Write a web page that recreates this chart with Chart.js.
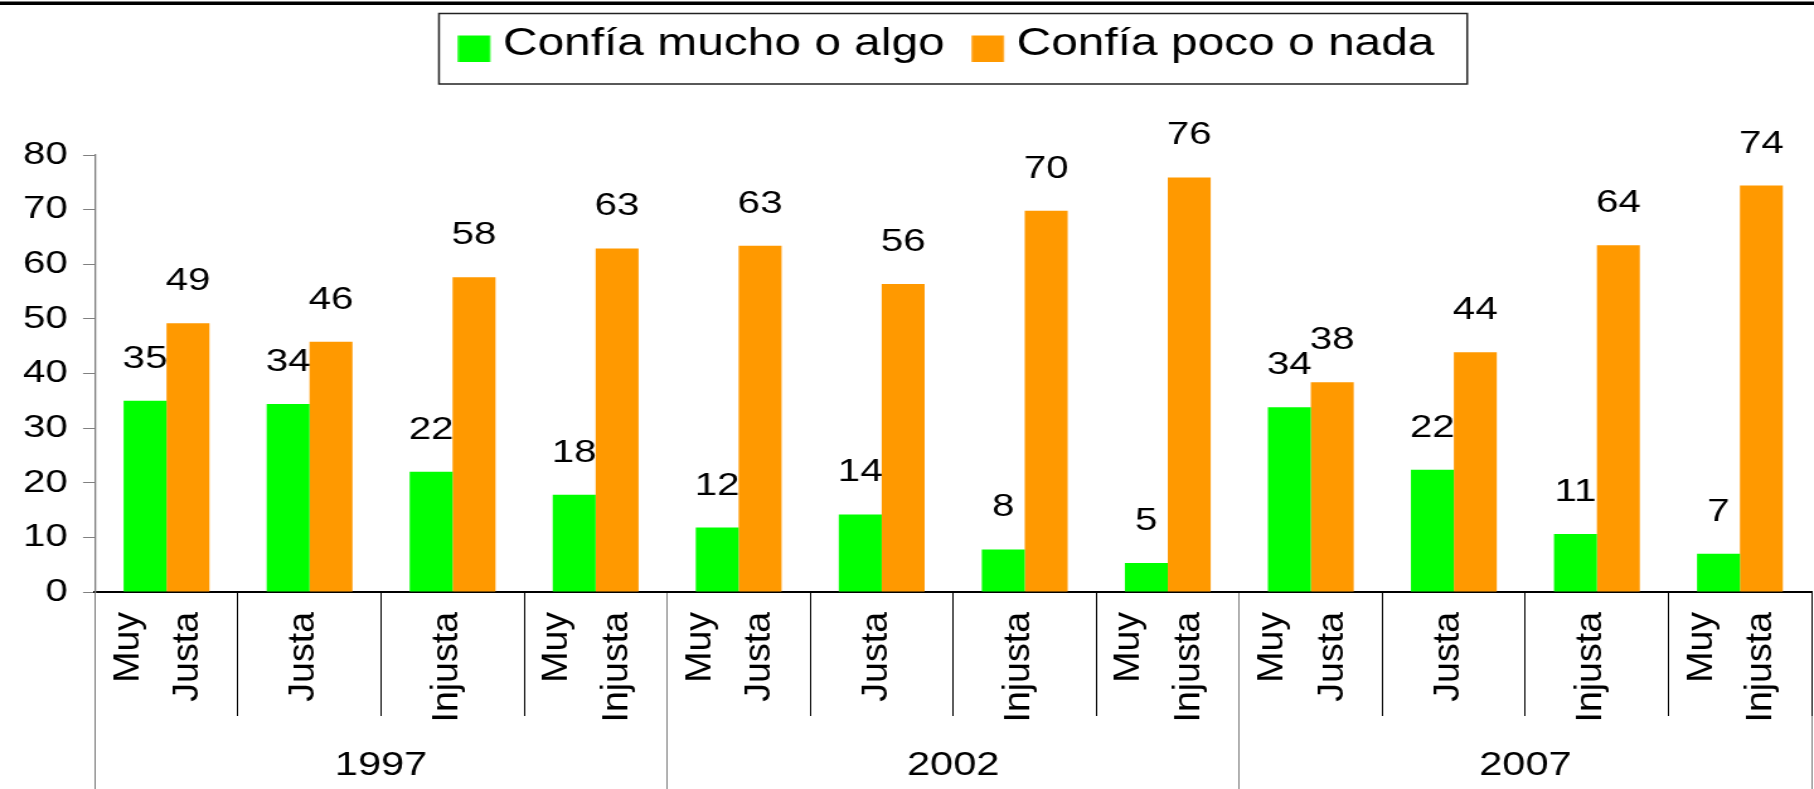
<!DOCTYPE html>
<html>
<head>
<meta charset="utf-8">
<script src="https://cdn.jsdelivr.net/npm/chart.js@4.4.1/dist/chart.umd.min.js"></script>
<style>
  html, body { margin: 0; padding: 0; background: #fff; overflow: hidden; }
  /* the original picture is stretched sideways, so the chart is drawn narrower and widened */
  #wrap { width: 1440px; height: 789px; transform: scaleX(1.2597); transform-origin: 0 0; }
</style>
</head>
<body>
<div id="wrap"><canvas id="chart" width="1440" height="789"></canvas></div>
<script>
// categories and values
const categoryLabels = [
    ['Muy', 'Justa'], ['Justa'], ['Injusta'], ['Muy', 'Injusta'],
    ['Muy', 'Justa'], ['Justa'], ['Injusta'], ['Muy', 'Injusta'],
    ['Muy', 'Justa'], ['Justa'], ['Injusta'], ['Muy', 'Injusta']
];
const yearLabels = ['1997', '2002', '2007'];
const seriesNames = ['Confía mucho o algo', 'Confía poco o nada'];
const seriesColors = ['#00FF00', '#FF9900'];
const confiaMucho = [35, 34.4, 22, 17.8, 11.8, 14.2, 7.8, 5.3, 33.8, 22.4, 10.6, 7];
const confiaPoco = [49.2, 45.8, 57.6, 62.9, 63.4, 56.4, 69.8, 75.9, 38.4, 43.9, 63.5, 74.4];
const yTicks = [0, 10, 20, 30, 40, 50, 60, 70, 80];

const STRETCH = 1814 / 1440;

Chart.defaults.font.family = '"Liberation Sans", Arial, sans-serif';
Chart.defaults.color = '#000';

// legend swatch: small square sitting a bit right of / below the point-style slot
function makeSwatch(color) {
    const c = document.createElement('canvas');
    c.width = 28;
    c.height = 33;
    const g = c.getContext('2d');
    g.fillStyle = color;
    g.fillRect(0.3, 7, 25.4, 26);
    return c;
}
const swatches = seriesColors.map(makeSwatch);

// black rule at the top + frame around the legend
const frameLines = {
    id: 'frameLines',
    beforeDraw(chart) {
        const ctx = chart.ctx;
        ctx.save();
        ctx.fillStyle = '#fff';
        ctx.fillRect(0, 0, chart.width, chart.height);
        ctx.fillStyle = '#000';
        ctx.fillRect(0, 1.5, chart.width, 3.5);
        ctx.restore();
    },
    afterDraw(chart) {
        const boxes = chart.legend.legendHitBoxes;
        if (!boxes || !boxes.length) return;
        let l = Infinity, r = -Infinity, t = Infinity;
        boxes.forEach(h => {
            l = Math.min(l, h.left);
            r = Math.max(r, h.left + h.width);
            t = Math.min(t, h.top);
        });
        const ctx = chart.ctx;
        ctx.save();
        ctx.strokeStyle = '#222';
        ctx.lineWidth = 1.5;
        ctx.strokeRect(l - 26.2, t - 12.5, (r - l) + 26.2 + 26, 70.5);
        ctx.restore();
    }
};

// value labels above each bar
const valueLabels = {
    id: 'valueLabels',
    afterDatasetsDraw(chart) {
        const ctx = chart.ctx;
        ctx.save();
        ctx.font = '32px "Liberation Sans", Arial, sans-serif';
        ctx.fillStyle = '#000';
        ctx.textAlign = 'center';
        ctx.textBaseline = 'alphabetic';
        chart.data.datasets.forEach((ds, i) => {
            chart.getDatasetMeta(i).data.forEach((bar, j) => {
                ctx.fillText(Math.round(ds.data[j]), bar.x, bar.y - 33);
            });
        });
        ctx.restore();
    }
};

// rotated category labels: undo the sideways stretch so the letters keep their shape
function drawUnstretchedLabels(chartArea) {
    const ctx = this.ctx;
    const items = this.getLabelItems(chartArea);
    ctx.save();
    ctx.scale(1 / STRETCH, 1);
    items.forEach(item => {
        const opts = Object.assign({}, item.options, {
            translation: [item.options.translation[0] * STRETCH, item.options.translation[1]],
            backdrop: undefined
        });
        Chart.helpers.renderText(ctx, item.label, 0, item.textOffset, item.font, opts);
    });
    ctx.restore();
}

const isSingle = c => (categoryLabels[c.index] || []).length === 1;

const myChart = new Chart(document.getElementById('chart'), {
    type: 'bar',
    data: {
        labels: categoryLabels,
        datasets: [{
            label: seriesNames[0],
            data: confiaMucho,
            backgroundColor: seriesColors[0],
            borderWidth: 0,
            categoryPercentage: 0.6,
            barPercentage: 1
        }, {
            label: seriesNames[1],
            data: confiaPoco,
            backgroundColor: seriesColors[1],
            borderWidth: 0,
            categoryPercentage: 0.6,
            barPercentage: 1
        }]
    },
    options: {
        responsive: false,
        animation: false,
        layout: { padding: { top: -6.5, left: 0, right: 2, bottom: 0 } },
        plugins: {
            legend: {
                position: 'top',
                fullSize: false,
                labels: {
                    font: { size: 38 },
                    usePointStyle: true,
                    pointStyleWidth: 5.6,
                    boxHeight: 26,
                    padding: 32.5,
                    color: '#000',
                    generateLabels(chart) {
                        const items = Chart.defaults.plugins.legend.labels.generateLabels(chart);
                        items.forEach((it, i) => { it.pointStyle = swatches[i]; });
                        return items;
                    }
                }
            },
            // empty title used as a spacer between legend and plot
            title: {
                display: true,
                text: '',
                weight: 500,
                position: 'top',
                padding: { top: 0, bottom: 0 },
                font: { size: 1, lineHeight: '81px' }
            },
            tooltip: { enabled: false }
        },
        scales: {
            x: {
                offset: true,
                grid: {
                    offset: true,
                    drawOnChartArea: false,
                    tickLength: 124,
                    lineWidth: 1,
                    color: c => (c.index % 4 === 0 ? '#808080' : '#000'),
                    tickColor: c => (c.index % 4 === 0 ? '#808080' : '#000')
                },
                border: { color: '#000', width: 2 },
                ticks: {
                    autoSkip: false,
                    minRotation: 90,
                    maxRotation: 90,
                    padding: -104,
                    labelOffset: -24.7,
                    // one-line labels keep Chart.js' un-shifted position, two-line ones get centred
                    showLabelBackdrop: isSingle,
                    backdropColor: 'rgba(0,0,0,0)',
                    backdropPadding: 0,
                    font: c => ({ size: 37.5, lineHeight: isSingle(c) ? 1.36 : 1.6 }),
                    color: '#000'
                },
                afterFit(scale) { scale.height = 124; },
                afterUpdate(scale) { scale.drawLabels = drawUnstretchedLabels; }
            },
            x2: {
                type: 'category',
                labels: yearLabels,
                position: 'bottom',
                offset: true,
                grid: {
                    offset: true,
                    drawOnChartArea: false,
                    tickLength: 73,
                    color: '#808080'
                },
                border: { display: false },
                ticks: {
                    padding: -43,
                    font: { size: 33 },
                    color: '#000'
                },
                afterFit(scale) { scale.height = 73; }
            },
            y: {
                min: yTicks[0],
                max: yTicks[yTicks.length - 1],
                afterBuildTicks(scale) { scale.ticks = yTicks.map(v => ({ value: v })); },
                ticks: { font: { size: 32 }, padding: 12, color: '#000' },
                grid: {
                    drawOnChartArea: false,
                    tickLength: 9.5,
                    color: '#808080',
                    lineWidth: 1
                },
                border: { color: '#808080', width: 1.3 },
                afterFit(scale) { scale.width = 75.4; }
            }
        }
    },
    plugins: [frameLines, valueLabels]
});
</script>
</body>
</html>
